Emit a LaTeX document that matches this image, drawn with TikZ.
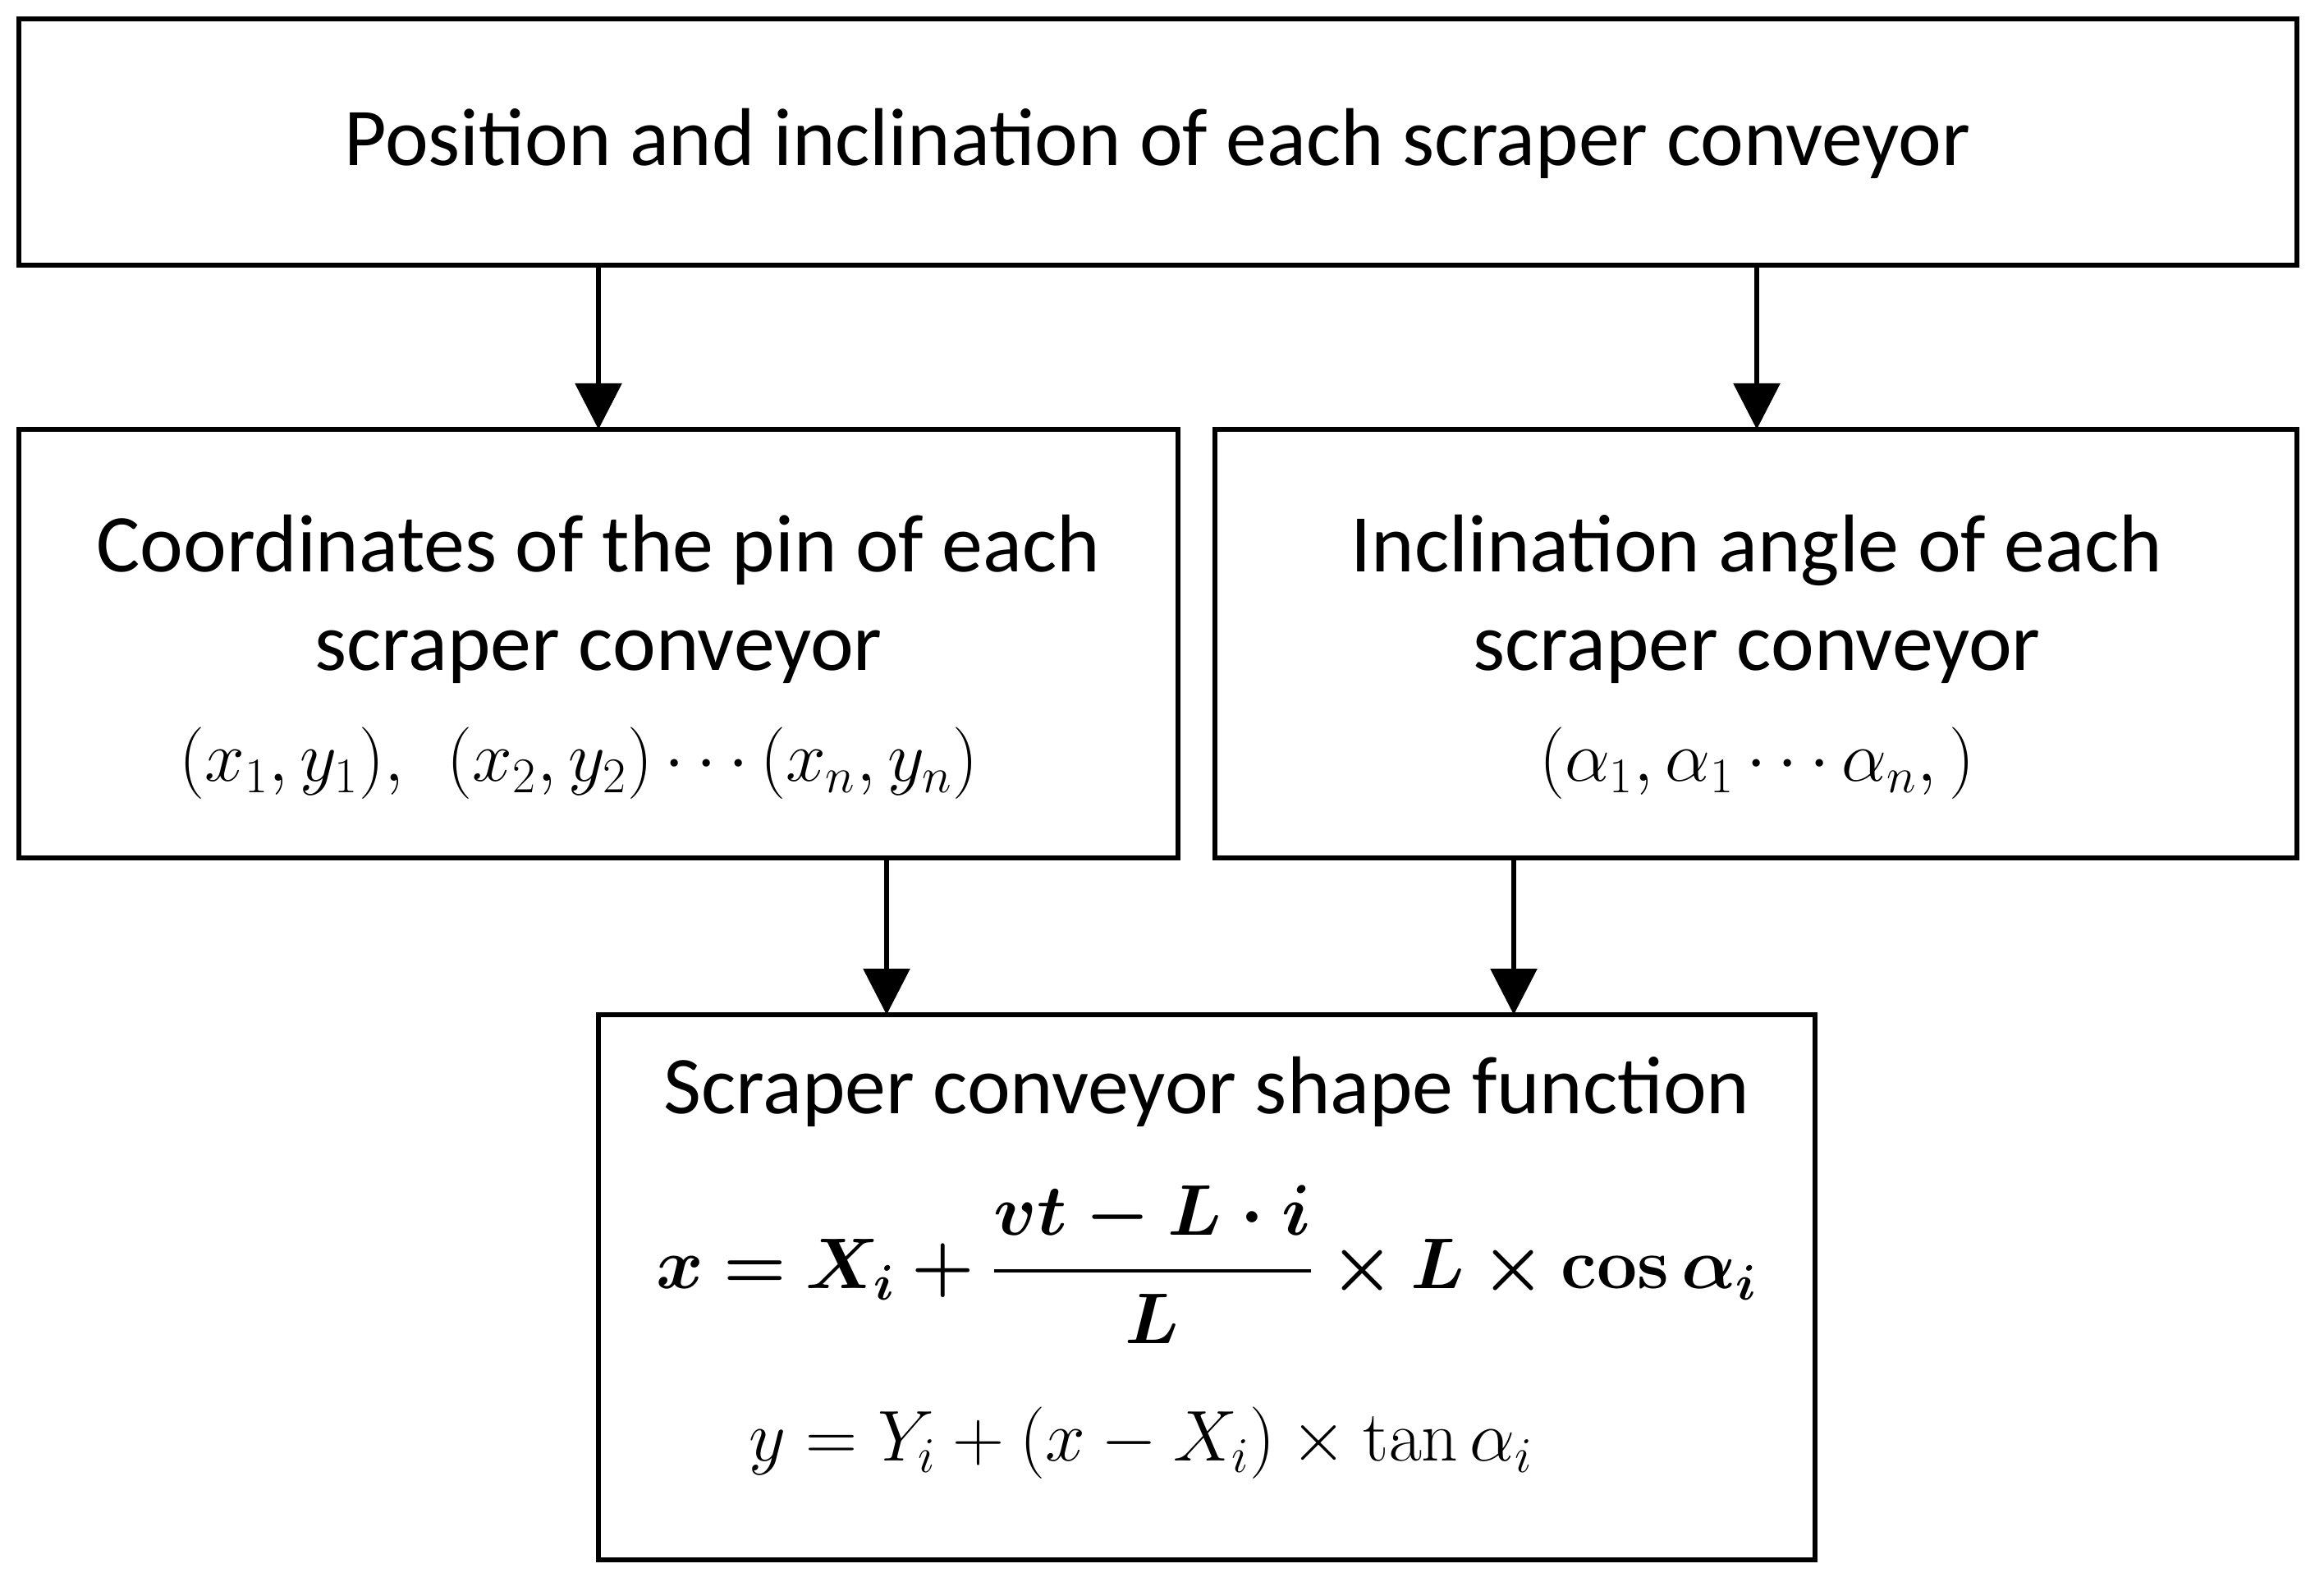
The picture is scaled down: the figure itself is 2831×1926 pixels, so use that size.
\documentclass[tikz,border=0pt]{standalone}
\usepackage{amsmath,bm}
\usepackage[no-math]{fontspec}
\setmainfont{Carlito}
\usetikzlibrary{arrows.meta}
\begin{document}
\begin{tikzpicture}[x=0.01cm,y=-0.01cm,
  box/.style={draw,line width=1.5pt},
  arr/.style={line width=1.6pt,-{Triangle[length=16pt,width=16pt]}},
  txt/.style={font=\fontsize{28.4}{34}\selectfont,align=center}]
\useasboundingbox (0,0) rectangle (2831,1926);
\draw[box] (23,23) rectangle (2798,323);
\node[txt] (t) at (1410,175) {Position and inclination of each scraper conveyor};
\draw[box] (23,523) rectangle (1435,1045);
\draw[box] (1480,523) rectangle (2798,1045);
\draw[box] (729,1236) rectangle (2211,1900);
\node[txt] (l) at (729,730) {Coordinates of the pin of each\\scraper conveyor};
\node[font=\fontsize{24}{28}\selectfont] (lm) at (705,930) {$(x_1,y_1),\ \ (x_2,y_2)\cdots(x_n,y_n)$};
\node[txt] (r) at (2140,730) {Inclination angle of each\\scraper conveyor};
\node[font=\fontsize{24}{28}\selectfont] (rm) at (2140,930) {$(\alpha_1,\alpha_1\cdots\alpha_n,)$};
\node[txt] (b) at (1470,1330) {Scraper conveyor shape function};
\node[font=\fontsize{24}{28}\selectfont] (bm1) at (1470,1540) {$\bm{x=X_i+\dfrac{vt-L\cdot i}{L}\times L\times \cos\alpha_i}$};
\node[font=\fontsize{24}{28}\selectfont] (bm2) at (1390,1758) {$y=Y_i+(x-X_i)\times\tan\alpha_i$};
\coordinate (a1s) at (729,323); \coordinate (a1e) at (729,523);
\coordinate (a2s) at (2140,323); \coordinate (a2e) at (2140,523);
\coordinate (a3s) at (1080,1045); \coordinate (a3e) at (1080,1236);
\coordinate (a4s) at (1844,1045); \coordinate (a4e) at (1844,1236);
\draw[arr] (a1s) -- (a1e);
\draw[arr] (a2s) -- (a2e);
\draw[arr] (a3s) -- (a3e);
\draw[arr] (a4s) -- (a4e);
\end{tikzpicture}
\end{document}
